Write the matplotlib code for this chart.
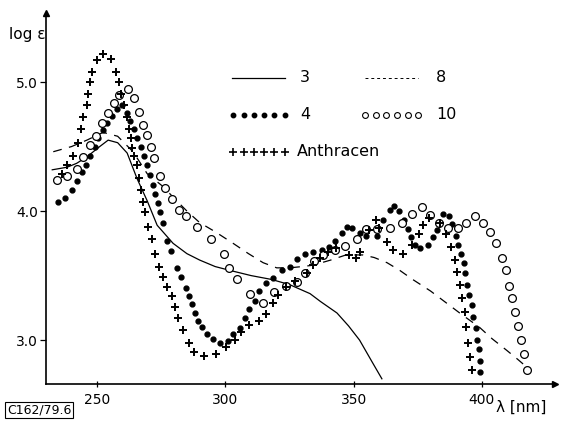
import matplotlib
matplotlib.use("Agg")
import matplotlib.pyplot as plt
import numpy as np

# compound 3 (solid line)
lam3 = [232.5, 238.3, 242, 246, 251, 254.3, 258, 261.7, 265.6, 269.5, 273.4, 279.6,
        285, 290, 296, 301.8, 310, 318, 325, 333, 337, 343.5, 348, 352.3, 357.5, 361]
log3 = [4.32, 4.34, 4.37, 4.42, 4.50, 4.55, 4.53, 4.45, 4.25, 4.08, 3.89, 3.75,
        3.67, 3.62, 3.57, 3.54, 3.50, 3.47, 3.43, 3.36, 3.30, 3.21, 3.11, 3.00, 2.82, 2.70]

# compound 8 (dashed line)
lam8 = [232.9, 240, 246, 252.3, 258, 264, 269.5, 275.7, 280, 285, 290, 296, 303, 309,
        314.7, 320, 325, 330, 334, 341, 347, 353.6, 358, 363, 368, 373, 380, 386, 392,
        399, 404, 409.7, 414, 417.5]
log8 = [4.46, 4.50, 4.55, 4.61, 4.58, 4.46, 4.29, 4.19, 4.10, 4.00, 3.91, 3.84, 3.75, 3.67,
        3.60, 3.56, 3.56, 3.57, 3.58, 3.62, 3.66, 3.66, 3.64, 3.60, 3.54, 3.47, 3.38, 3.29, 3.20,
        3.10, 3.01, 2.92, 2.85, 2.79]

# compound 4 (filled dots)
lam4 = [234.8, 237.5, 240.3, 242.2, 244, 245.7, 247.2, 249, 250.4, 252.2, 253.9, 255.8,
        257.8, 259.6, 261.7, 263, 264.3, 265.6, 267, 268.3, 269.5, 270.6, 271.6, 272.6,
        273.6, 274.5, 275.7, 277.3, 278.8, 281, 282.7, 284.7, 285.8, 286.8, 288, 289.3,
        291, 293, 295, 298, 301, 303, 305.7, 307.7, 309.3, 311.5, 313.2, 316, 318.6, 322,
        325, 328, 331, 334, 337.5, 340.5, 342.7, 345.4, 347.4, 349.3, 352.5, 355, 359,
        361.4, 364, 365.8, 367.5, 369.5, 371, 372.5, 374, 376, 379, 381, 382.5, 385, 387,
        388.3, 389.8, 390.6, 392, 393, 393.4, 394.2, 395, 396, 396.5, 397.6, 398.2, 399,
        399.3, 399.4]
log4 = [4.07, 4.10, 4.16, 4.23, 4.30, 4.36, 4.43, 4.50, 4.57, 4.63, 4.68, 4.74,
        4.79, 4.82, 4.76, 4.70, 4.64, 4.57, 4.50, 4.43, 4.36, 4.28, 4.20, 4.13,
        4.06, 3.99, 3.91, 3.77, 3.69, 3.56, 3.49, 3.40, 3.34, 3.28, 3.21, 3.15,
        3.10, 3.05, 3.01, 2.98, 2.99, 3.05, 3.09, 3.17, 3.24, 3.30, 3.38, 3.44, 3.48, 3.54,
        3.57, 3.63, 3.67, 3.68, 3.70, 3.72, 3.77, 3.83, 3.88, 3.87, 3.83, 3.81, 3.81,
        3.93, 4.01, 4.04, 4.00, 3.93, 3.86, 3.80, 3.74, 3.71, 3.74, 3.80, 3.85, 3.98, 3.96,
        3.90, 3.81, 3.74, 3.67, 3.60, 3.52, 3.43, 3.35, 3.27, 3.18, 3.09, 3.00, 2.93,
        2.84, 2.75]

# compound 10 (open circles)
lam10 = [234.4, 238.3, 242, 244.5, 247.3, 249.6, 252, 254.3, 256.6, 258.6, 262, 264.4,
         266.4, 268, 269.5, 271, 272.2, 274.5, 276.5, 279.2, 282, 284.5, 289, 294.4, 299.5,
         301.4, 304.5, 309.6, 314.7, 319, 323.6, 327.9, 331, 334.5, 338, 342.7, 346.8,
         351.3, 355, 359, 364, 368.8, 372.7, 376.6, 379.7, 383.2, 386.7, 390.6, 393.7,
         397.3, 400.4, 403, 405.4, 407.8, 409.3, 410.5, 411.7, 412.8, 414, 415.2, 416.3, 417.5]
log10 = [4.24, 4.27, 4.33, 4.42, 4.51, 4.58, 4.68, 4.76, 4.84, 4.90, 4.95, 4.88,
         4.77, 4.67, 4.59, 4.50, 4.41, 4.27, 4.18, 4.09, 4.01, 3.96, 3.88, 3.78, 3.67,
         3.56, 3.47, 3.36, 3.29, 3.37, 3.42, 3.45, 3.52, 3.61, 3.66, 3.70, 3.73,
         3.78, 3.86, 3.86, 3.87, 3.91, 3.98, 4.03, 3.97, 3.91, 3.87, 3.87, 3.91,
         3.96, 3.91, 3.84, 3.75, 3.64, 3.54, 3.42, 3.33, 3.22, 3.11, 3.00, 2.89, 2.77]

# anthracene (plus signs)
lamA = [236.4, 238.3, 240.6, 242.6, 243.8, 244.5, 246, 246.5, 247.3, 248, 250, 252.3,
        255.5, 257.4, 258.6, 259.3, 260.5, 261.7, 262.5, 263.2, 263.6, 264.4, 265.6, 266.4,
        267.1, 268, 268.5, 269.9, 271.4, 272.6, 274.2, 275.7, 277.3, 279.2, 280.4, 281.6,
        283.5, 285.8, 287.8, 291.7, 296.4, 300.3, 303.8, 306, 309.2, 313, 316, 318.6,
        320.5, 323.5, 327, 331.8, 334, 337, 340, 343, 348, 351, 352.5, 356, 358.7, 360,
        363, 365.3, 369.2, 372.7, 375.5, 377, 379.3, 383.6, 386, 388, 389.5, 390.3, 391.4,
        392.2, 393.4, 393.8, 394.5, 395.3, 396]
logA = [4.29, 4.36, 4.43, 4.53, 4.64, 4.73, 4.82, 4.91, 5.00, 5.08, 5.17, 5.22,
        5.18, 5.08, 5.00, 4.91, 4.82, 4.73, 4.64, 4.57, 4.49, 4.43, 4.36, 4.26,
        4.16, 4.07, 3.99, 3.88, 3.78, 3.67, 3.57, 3.49, 3.41, 3.34, 3.26, 3.17,
        3.08, 2.98, 2.91, 2.88, 2.89, 2.95, 3.00, 3.06, 3.12, 3.15, 3.20, 3.29,
        3.35, 3.41, 3.46, 3.52, 3.58, 3.64, 3.68, 3.71, 3.66, 3.64, 3.68, 3.85, 3.93, 3.87,
        3.76, 3.70, 3.67, 3.74, 3.82, 3.89, 3.95, 3.91, 3.82, 3.72, 3.62, 3.53, 3.43,
        3.33, 3.22, 3.10, 2.98, 2.87, 2.77]

x_ticks = [250, 300, 350, 400]
y_ticks = [3.0, 4.0, 5.0]

fig = plt.figure(figsize=(5.69, 4.21), dpi=100)
ax = fig.add_axes([0.081, 0.088, 0.894, 0.881])
ax.set_xlim(230.1, 428.4)
ax.set_ylim(2.66, 5.535)

ax.plot(lam3, log3, color='black', lw=0.9)
ax.plot(lam8, log8, color='black', lw=0.9, dashes=(7, 6))
ax.plot(lam4, log4, 'o', color='black', ms=3.5, mec='black')
ax.plot(lam10, log10, 'o', mfc='white', mec='black', ms=5.6, mew=0.9)
ax.plot(lamA, logA, '+', color='black', ms=6.0, mew=1.4)

for s in ['top', 'right']:
    ax.spines[s].set_visible(False)
for s in ['left', 'bottom']:
    ax.spines[s].set_linewidth(1.2)
ax.plot(1, 0, '>', color='black', ms=4, transform=ax.transAxes, clip_on=False)
ax.plot(0, 1, '^', color='black', ms=4, transform=ax.transAxes, clip_on=False)

ax.set_xticks(x_ticks)
ax.set_xticklabels([str(v) for v in x_ticks])
ax.set_yticks(y_ticks)
ax.set_yticklabels(['%.1f' % v for v in y_ticks])
ax.tick_params(axis='x', direction='inout', length=5, width=0.9, labelsize=10, pad=4)
ax.tick_params(axis='y', direction='out', length=4, width=0.9, labelsize=10, pad=2)

fig.text(0.015, 0.918, 'log ε', fontsize=11, ha='left', va='center')
fig.text(0.872, 0.033, 'λ [nm]', fontsize=11, ha='left', va='center')
fig.text(0.012, 0.026, 'C162/79.6', fontsize=9, ha='left', va='center',
         bbox=dict(boxstyle='square,pad=0.15', fc='white', ec='black', lw=0.8))

# legend drawn by hand
fig.add_artist(plt.Line2D([0.408, 0.501], [0.815, 0.815], color='black', lw=0.9))
fig.text(0.527, 0.815, '3', fontsize=11.5, va='center')
fig.add_artist(plt.Line2D([0.641, 0.735], [0.815, 0.815], color='black', lw=0.7,
                          dashes=(3, 3)))
fig.text(0.766, 0.815, '8', fontsize=11.5, va='center')
lx1 = np.linspace(0.410, 0.500, 6)
lx2 = np.linspace(0.642, 0.735, 6)
fig.add_artist(plt.Line2D(lx1, [0.727] * 6, ls='none', marker='o', color='black', ms=3.2))
fig.text(0.527, 0.727, '4', fontsize=11.5, va='center')
fig.add_artist(plt.Line2D(lx2, [0.727] * 6, ls='none', marker='o', mfc='white',
                          mec='black', ms=4.2, mew=0.8))
fig.text(0.766, 0.727, '10', fontsize=11.5, va='center')
fig.add_artist(plt.Line2D(lx1, [0.639] * 6, ls='none', marker='+', color='black',
                          ms=5.5, mew=1.2))
fig.text(0.522, 0.641, 'Anthracen', fontsize=11.5, va='center')

fig.savefig('out.png', dpi=100)
